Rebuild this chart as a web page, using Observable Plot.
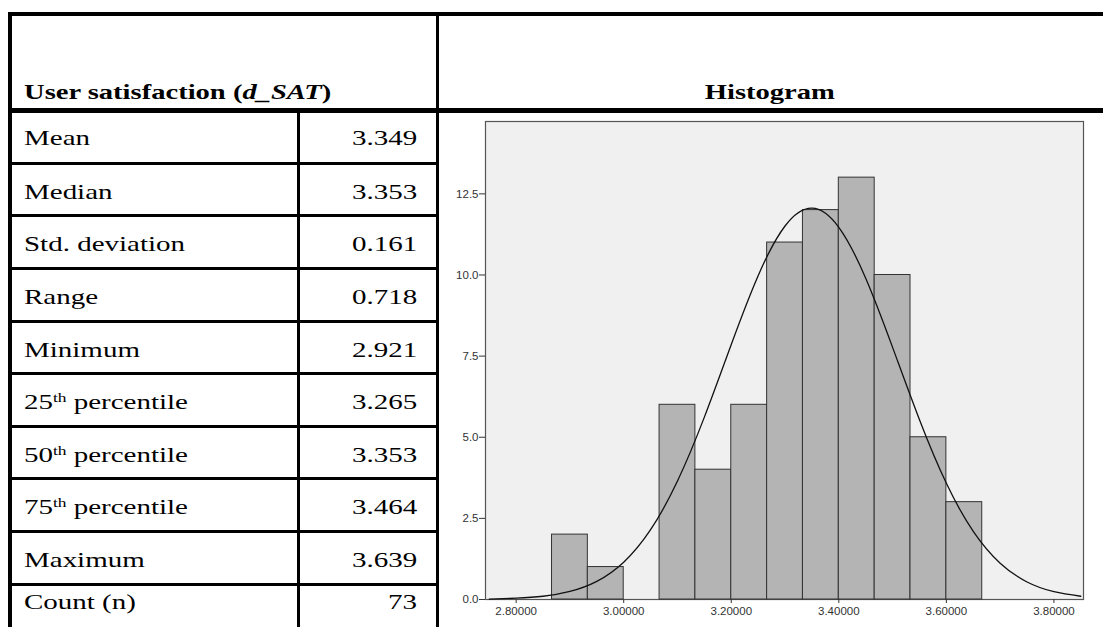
<!DOCTYPE html>
<html>
<head>
<meta charset="utf-8">
<script src="https://cdn.jsdelivr.net/npm/d3@7"></script>
<script src="https://cdn.jsdelivr.net/npm/@observablehq/plot@0.6"></script>
<style>
  html, body { margin: 0; padding: 0; background: #fff; }
  #wrap { position: relative; width: 1103px; height: 627px; overflow: hidden; background: #fff; }
  .ln { position: absolute; background: #000; }
  .txt { position: absolute; white-space: nowrap; font-family: "Liberation Serif", "Times New Roman", serif; color: #000; line-height: 1; }
  .txt span { display: inline-block; }
  sup { font-size: 0.6em; vertical-align: 0.55em; line-height: 0; }
  #chart { position: absolute; left: 437px; top: 111px; }
</style>
</head>
<body>
<div id="wrap"><div id="chart"></div></div>
<script>
// ---------- data ----------
const headerLeft = "User satisfaction (";
const headerVar = "d_SAT";
const headerRight = ")";
const panelTitle = "Histogram";
const statLabels = ["Mean", "Median", "Std. deviation", "Range", "Minimum",
  "25^th^ percentile", "50^th^ percentile", "75^th^ percentile", "Maximum", "Count (n)"];
const statValues = ["3.349", "3.353", "0.161", "0.718", "2.921",
  "3.265", "3.353", "3.464", "3.639", "73"];

const binEdges = [2.8667, 2.9333, 3.0000, 3.0667, 3.1333, 3.2000, 3.2667,
  3.3333, 3.4000, 3.4667, 3.5333, 3.6000, 3.6667];
const binCounts = [2, 1, 0, 6, 4, 6, 11, 12, 13, 10, 5, 3];

// normal curve (frequency at x)
const curveX = [2.75, 2.80, 2.85, 2.90, 2.95, 3.00, 3.05, 3.10, 3.15, 3.20, 3.25, 3.30,
  3.35, 3.40, 3.45, 3.50, 3.55, 3.60, 3.65, 3.70, 3.75, 3.80, 3.85];
const curveY = [0.01, 0.04, 0.10, 0.25, 0.56, 1.15, 2.15, 3.65, 5.62, 7.86, 9.98, 11.51,
  12.06, 11.47, 9.90, 7.77, 5.54, 3.58, 2.10, 1.12, 0.54, 0.24, 0.10];

const xTicks = [2.8, 3.0, 3.2, 3.4, 3.6, 3.8];
const yTicks = [0, 2.5, 5, 7.5, 10, 12.5];

// ---------- table layout ----------
const wrap = document.getElementById("wrap");
function line(x, y, w, h) {
  const d = document.createElement("div");
  d.className = "ln";
  Object.assign(d.style, {left: x + "px", top: y + "px", width: w + "px", height: h + "px"});
  wrap.appendChild(d);
}
const FS = 21, SX = 1.38;
function text(html, x, baseline, align, bold, fs = FS, sx = SX) {
  const d = document.createElement("div");
  d.className = "txt";
  const s = document.createElement("span");
  s.innerHTML = html;
  s.style.transform = `scaleX(${sx})`;
  s.style.transformOrigin = align === "right" ? "right" : (align === "center" ? "center" : "left");
  d.appendChild(s);
  d.style.fontSize = fs + "px";
  d.style.fontWeight = bold ? "bold" : "normal";
  d.style.top = (baseline - 0.8375 * fs) + "px";
  if (align === "right") { d.style.right = (1103 - x) + "px"; d.style.textAlign = "right"; }
  else if (align === "center") { d.style.left = (x - 300) + "px"; d.style.width = "600px"; d.style.textAlign = "center"; }
  else d.style.left = x + "px";
  wrap.appendChild(d);
}

// outer / header lines
line(8, 12, 1095, 4);      // top border
line(8, 12, 4, 615);       // left border
line(436, 12, 3, 615);     // divider left/right column
line(8, 108, 1095, 5);     // header bottom
// row lines in the left table
const rowTops = [110];
for (let k = 0; k < 9; k++) rowTops.push(163.3 + k * 52.6);
for (let k = 1; k < rowTops.length; k++) line(8, Math.round(rowTops[k] - 1.5), 430, 3);
line(297, 110, 3, 517);    // inner column divider

text(`${headerLeft}<i>${headerVar}</i>${headerRight}`, 24, 100, "left", true, 21, 1.36);
text(panelTitle, 770, 100, "center", true, 21, 1.36);

statLabels.forEach((lab, i) => {
  const html = lab.replace(/\^(.*?)\^/g, "<sup>$1</sup>");
  const base = i === statLabels.length - 1 ? rowTops[i] + 25 : rowTops[i] + 36;
  text(html, 24, base, "left", false);
  text(statValues[i], 417, base, "right", false);
});

// ---------- histogram ----------
const bins = binCounts.map((c, i) => ({x1: binEdges[i], x2: binEdges[i + 1], count: c})).filter(d => d.count > 0);
const curve = curveX.map((x, i) => ({x, y: curveY[i]}));

const plot = Plot.plot({
  width: 666,
  height: 516,
  marginLeft: 48,
  marginTop: 10,
  marginRight: 20,
  marginBottom: 28,
  style: {fontFamily: "'Liberation Sans', Arial, sans-serif", fontSize: "11.5px", color: "#333", background: "transparent", overflow: "visible"},
  x: {domain: [2.743, 3.855], label: null},
  y: {domain: [0, 14.73], label: null},
  marks: [
    Plot.frame({fill: "#f0f0f0", stroke: "#555", strokeWidth: 1.2}),
    Plot.rectY(bins, {x1: "x1", x2: "x2", y: "count", fill: "#b4b4b4", stroke: "#333", strokeWidth: 1}),
    Plot.line(curve, {x: "x", y: "y", curve: "natural", stroke: "#111", strokeWidth: 1.3}),
    Plot.axisX({ticks: xTicks, tickFormat: d3.format(".5f"), tickSize: 4, tickPadding: 3, stroke: "#333", label: null}),
    Plot.axisY({ticks: yTicks, tickFormat: d3.format(".1f"), tickSize: 6, tickPadding: 1, stroke: "#333", label: null})
  ]
});
document.getElementById("chart").appendChild(plot);
</script>
</body>
</html>
